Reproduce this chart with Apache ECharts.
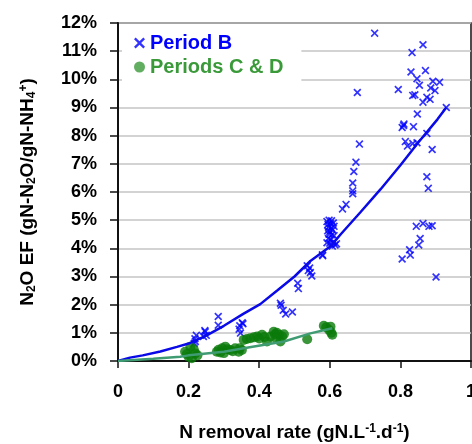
<!DOCTYPE html>
<html>
<head>
<meta charset="utf-8">
<script src="https://cdn.jsdelivr.net/npm/echarts@6/dist/echarts.min.js"></script>
<style>
html,body{margin:0;padding:0;background:#fff;}
#c{width:472px;height:444px;}
</style>
</head>
<body>
<div id="c"></div>
<script>
// ---- data ----
var xTicks = [0, 0.2, 0.4, 0.6, 0.8, 1];
var yTicks = [0,1,2,3,4,5,6,7,8,9,10,11,12];

var periodB = [
  [0.727,11.64],[0.864,11.23],[0.833,10.95],[0.830,10.26],[0.871,10.31],[0.847,10.02],[0.854,9.79],[0.892,9.93],[0.911,9.90],
  [0.678,9.53],[0.794,9.64],[0.835,9.43],[0.841,9.45],[0.886,9.69],[0.898,9.60],[0.875,9.36],[0.884,9.29],[0.864,9.19],
  [0.930,9.00],[0.848,8.77],[0.809,8.36],[0.837,8.32],[0.805,8.29],[0.810,8.41],[0.875,8.08],[0.814,7.79],[0.820,7.63],
  [0.835,7.72],[0.847,7.75],[0.890,7.51],[0.684,7.70],[0.674,7.06],[0.668,6.73],[0.665,6.32],[0.665,6.04],[0.665,5.94],
  [0.875,6.54],[0.879,6.13],[0.646,5.56],[0.636,5.40],[0.845,4.78],[0.864,4.88],[0.881,4.78],[0.890,4.80],[0.856,4.35],
  [0.852,4.12],[0.826,3.95],[0.828,3.76],[0.805,3.62],[0.901,2.98],
  [0.592,4.95],[0.598,5.00],[0.605,4.98],[0.595,4.85],[0.602,4.88],[0.610,4.90],[0.596,4.75],[0.604,4.72],[0.612,4.78],
  [0.594,4.62],[0.600,4.60],[0.608,4.65],[0.598,4.50],[0.606,4.48],[0.612,4.45],[0.596,4.35],[0.603,4.30],[0.610,4.22],
  [0.600,4.18],[0.615,4.12],[0.619,4.16],[0.607,4.08],[0.592,4.20],
  [0.580,3.74],[0.579,3.77],
  [0.536,3.38],[0.543,3.30],[0.539,3.21],[0.545,3.14],[0.549,3.02],
  [0.509,2.76],[0.511,2.57],[0.460,2.05],[0.462,1.98],[0.475,1.67],[0.494,1.74],[0.468,1.80],
  [0.284,1.58],[0.284,1.27],[0.352,1.36],[0.345,1.25],[0.343,1.13],[0.347,0.99],[0.354,1.32],
  [0.246,1.08],[0.250,0.91],[0.242,0.87],[0.222,0.91],[0.218,0.79],[0.216,0.63],[0.219,0.69],[0.247,1.04]
];

var periodsCD = [
  [0.190,0.33],[0.200,0.15],[0.205,0.51],[0.219,0.27],[0.209,0.10],[0.195,0.25],[0.215,0.40],[0.225,0.20],
  [0.280,0.33],[0.295,0.45],[0.304,0.51],[0.318,0.39],[0.332,0.45],[0.342,0.33],[0.351,0.39],[0.290,0.30],
  [0.310,0.42],[0.325,0.35],[0.300,0.28],[0.345,0.45],[0.285,0.40],
  [0.356,0.75],[0.375,0.81],[0.394,0.87],[0.408,0.93],[0.422,0.69],[0.432,0.87],[0.441,1.04],[0.456,0.93],
  [0.465,0.87],[0.460,0.69],[0.365,0.78],[0.385,0.84],[0.400,0.80],[0.415,0.85],[0.445,0.95],[0.470,0.95],
  [0.450,1.00],[0.448,0.80],
  [0.536,0.77],[0.583,1.25],[0.598,1.10],[0.607,0.93],[0.602,1.22],[0.590,1.20],[0.604,1.00]
];

var trendB = [
  [0,0],[0.034,0.12],[0.07,0.2],[0.12,0.34],[0.167,0.5],[0.2,0.62],[0.25,0.9],[0.3,1.25],[0.356,1.68],
  [0.403,2.02],[0.451,2.5],[0.5,3.0],[0.545,3.55],[0.602,4.07],[0.631,4.5],[0.688,5.3],[0.744,6.1],
  [0.8,6.95],[0.85,7.75],[0.905,8.58],[0.93,9.0]
];

var trendCD = [
  [0,0],[0.1,0.08],[0.176,0.15],[0.2,0.2],[0.3,0.33],[0.356,0.45],[0.47,0.69],[0.545,0.98],[0.607,1.16]
];

// ---- chart ----
var xIcon = 'path://M1.5,0 L5,3.5 L8.5,0 L10,1.5 L6.5,5 L10,8.5 L8.5,10 L5,6.5 L1.5,10 L0,8.5 L3.5,5 L0,1.5 Z';
var FONT = '"Liberation Sans", Arial, sans-serif';

var chart = echarts.init(document.getElementById('c'));
chart.setOption({
  animation: false,
  backgroundColor: '#fff',
  textStyle: {fontFamily: FONT},
  grid: {left: 118, right: 1, top: 23, bottom: 83, containLabel: false, outerBoundsMode: 'none',
         show: true, borderColor: '#111', borderWidth: 1.5},
  legend: {
    orient: 'vertical',
    left: 122, top: 24,
    padding: [9, 18, 7, 12],
    backgroundColor: '#fff',
    itemWidth: 11, itemHeight: 11,
    itemGap: 4,
    textStyle: {fontFamily: FONT, fontWeight: 'bold', fontSize: 20},
    data: [
      {name: 'Period B', icon: xIcon, textStyle: {color: '#0000ff'}},
      {name: 'Periods C & D', icon: 'circle', itemStyle: {color: '#3a9a3a'}, textStyle: {color: '#3a9a3a'}}
    ]
  },
  xAxis: {
    type: 'value', min: xTicks[0], max: xTicks[xTicks.length - 1], interval: 0.2,
    axisLine: {show: true, lineStyle: {color: '#111', width: 2}},
    axisTick: {show: true, length: 7, lineStyle: {color: '#111', width: 1.5}},
    splitLine: {show: false},
    axisLabel: {
      margin: 22, color: '#000', fontWeight: 'bold', fontSize: 18, fontFamily: FONT,
      formatter: function (v) { return String(+v.toFixed(1)); }
    },
    name: 'N removal rate (gN.L{sup|-1}.d{sup|-1})',
    nameLocation: 'middle', nameGap: 62,
    nameTextStyle: {
      color: '#000', fontWeight: 'bold', fontSize: 19, fontFamily: FONT,
      rich: {sup: {fontSize: 12, fontWeight: 'bold', verticalAlign: 'top', color: '#000', fontFamily: FONT, padding: [0, 0, 8, 0]}}
    }
  },
  yAxis: {
    type: 'value', min: yTicks[0], max: yTicks[yTicks.length - 1], interval: 1,
    axisLine: {show: true, lineStyle: {color: '#111', width: 2}},
    axisTick: {show: true, length: 8, lineStyle: {color: '#111', width: 1.5}},
    splitLine: {show: true, lineStyle: {color: '#c4c4c4', width: 1.5}},
    axisLabel: {
      margin: 21, color: '#000', fontWeight: 'bold', fontSize: 18, fontFamily: FONT,
      formatter: '{value}%'
    },
    name: 'N{sub|2}O EF (gN-N{sub|2}O/gN-NH{sub|4}{sup|+})',
    nameLocation: 'middle', nameGap: 80,
    nameTextStyle: {
      color: '#000', fontWeight: 'bold', fontSize: 19, fontFamily: FONT,
      rich: {
        sub: {fontSize: 12, fontWeight: 'bold', verticalAlign: 'bottom', color: '#000', fontFamily: FONT, padding: [6, 0, 0, 0]},
        sup: {fontSize: 12, fontWeight: 'bold', verticalAlign: 'top', color: '#000', fontFamily: FONT, padding: [0, 0, 8, 0]}
      }
    }
  },
  series: [
    {
      name: 'Period B', type: 'scatter', data: periodB,
      symbol: xIcon, symbolSize: 8,
      itemStyle: {color: '#0000ff'}, z: 3
    },
    {
      name: 'Periods C & D', type: 'scatter', data: periodsCD,
      symbol: 'circle', symbolSize: 10,
      itemStyle: {color: '#0a7a0a'}, z: 3
    },
    {
      name: 'trendB', type: 'line', data: trendB, showSymbol: false,
      lineStyle: {color: '#0a0ae8', width: 2.5}, z: 5, silent: true
    },
    {
      name: 'trendCD', type: 'line', data: trendCD, showSymbol: false,
      lineStyle: {color: '#3f9c72', width: 2.5}, z: 5, silent: true
    }
  ]
});
</script>
</body>
</html>
